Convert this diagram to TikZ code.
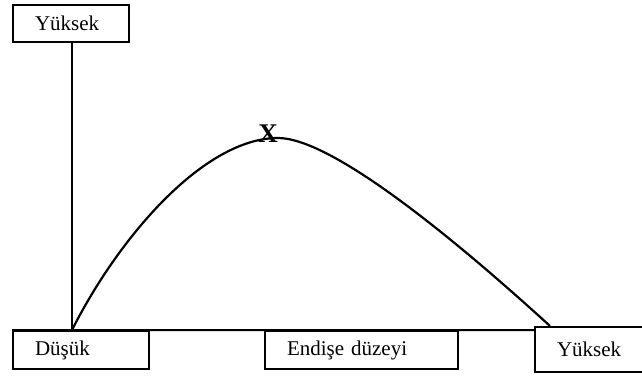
\documentclass[tikz,border=0pt]{standalone}
\usepackage{fontspec}
\setmainfont{Liberation Serif}
\tikzset{
  kutu/.style={draw, line width=1.6pt, inner xsep=22pt, inner ysep=0pt,
    align=left, font=\fontsize{21}{23}\selectfont},
}
\begin{document}
\begin{tikzpicture}[x=1pt,y=-1pt]
  \useasboundingbox (0,0) rectangle (642,375);
  % boxes
  \node[kutu, text width=72pt, minimum height=37pt] (ust) at (71,23.5) {Yüksek};
  \node[kutu, text width=92pt, minimum height=38pt] (dusuk) at (81,350) {Düşük};
  \node[kutu, text width=149pt, minimum height=38pt] (endise) at (361.5,350) {Endişe düzeyi};
  \node[kutu, text width=65pt, minimum height=45pt] (yuksek) at (589.5,349.5) {Yüksek};
  % axes
  \coordinate (O) at (72,330);
  \coordinate (son) at (550,326);
  \draw[line width=2pt] (ust.south -| O) -- (O);
  \draw[line width=2pt] (dusuk.north west) -- (yuksek.north west |- O);
  % curve
  \draw[line width=2.2pt] (O) .. controls (120,235) and (205,138) .. (278,138)
    .. controls (330,138) and (447,232) .. (son);
  \node[font=\fontsize{27}{27}\selectfont\bfseries] (tepe) at (268,134) {X};
\end{tikzpicture}
\end{document}
